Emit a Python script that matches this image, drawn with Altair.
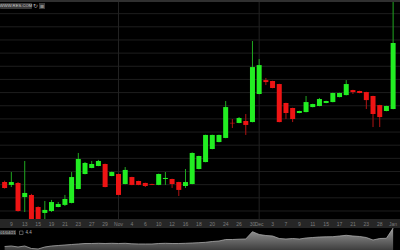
import altair as alt
import pandas as pd

# ---- data ----
idx = list(range(59))
opens = [22.20, 21.98, 22.13, 21.06, 21.22, 20.30, 19.85, 20.00, 20.30, 20.46,
         20.61, 21.67, 22.81, 23.27, 23.42, 23.57, 22.66, 22.81, 22.05, 22.58,
         22.28, 22.13, 22.05, 21.98, 22.43, 22.43, 22.20, 21.90, 22.05, 23.19,
         23.72, 24.71, 25.24, 25.55, 26.70, 26.69, 26.84, 26.76, 28.89, 29.95,
         29.88, 29.65, 28.21, 27.83, 27.45, 27.52, 27.90, 27.98, 28.21, 28.28,
         28.66, 28.81, 29.19, 29.12, 29.04, 28.74, 28.05, 27.60, 27.75]
closes = [21.75, 22.20, 20.00, 21.37, 19.30, 19.35, 20.08, 20.68, 20.53, 20.91,
          22.58, 23.95, 23.65, 23.57, 23.80, 21.82, 22.96, 21.22, 23.12, 21.98,
          21.98, 21.90, 21.99, 22.81, 22.51, 22.05, 21.60, 22.20, 24.41, 24.18,
          25.78, 25.78, 25.78, 27.90, 26.66, 27.07, 26.54, 30.94, 31.09, 29.80,
          29.35, 26.76, 27.45, 26.99, 27.60, 28.28, 28.13, 28.51, 28.36, 28.97,
          28.97, 29.65, 29.04, 28.97, 28.43, 27.37, 27.14, 27.98, 32.77]
highs = [22.30, 22.96, 22.20, 23.80, 21.30, 20.35, 20.76, 20.84, 20.68, 21.22,
         22.96, 24.41, 23.72, 23.80, 23.88, 23.60, 23.00, 22.84, 23.34, 22.60,
         22.30, 22.15, 22.07, 22.84, 22.96, 22.45, 22.22, 23.19, 24.45, 24.20,
         25.80, 25.80, 25.80, 28.36, 26.99, 27.14, 27.37, 32.92, 31.55, 30.11,
         29.90, 29.67, 28.23, 27.85, 27.62, 28.74, 28.15, 28.59, 28.38, 28.99,
         28.99, 29.95, 29.21, 29.14, 29.06, 28.76, 28.07, 28.00, 36.00]
lows = [21.70, 21.82, 19.95, 19.92, 19.25, 19.30, 19.30, 19.92, 20.28, 20.38,
        20.58, 21.65, 22.78, 23.25, 23.40, 21.80, 22.64, 21.20, 22.03, 21.96,
        21.96, 21.82, 21.97, 21.96, 21.98, 21.75, 21.14, 21.75, 22.03, 23.17,
        23.70, 24.69, 25.22, 25.53, 26.31, 26.67, 25.78, 26.74, 28.87, 29.57,
        29.33, 26.74, 26.99, 26.76, 27.43, 27.50, 27.88, 27.96, 28.19, 28.26,
        28.64, 28.79, 28.89, 28.95, 27.75, 26.38, 26.38, 27.58, 27.73]
volumes = [0.70, 0.80, 0.60, 0.80, 0.30, 0.20, 0.60, 0.80, 0.90, 1.00,
           1.10, 1.20, 1.30, 1.30, 1.34, 1.30, 1.34, 1.30, 1.34, 1.24,
           1.20, 1.20, 1.20, 1.30, 1.34, 1.30, 1.30, 1.34, 1.40, 1.46,
           1.54, 1.70, 1.80, 2.10, 2.10, 2.16, 2.20, 3.66, 3.10, 2.90,
           2.80, 2.30, 2.20, 2.30, 2.20, 2.40, 2.50, 2.60, 2.64, 2.66,
           2.80, 2.94, 2.80, 2.70, 2.50, 2.00, 2.30, 2.34, 4.40]
tick_idx = [1, 3, 5, 7, 9, 11, 13, 15, 17, 19, 21, 23, 25, 27, 29, 31, 33, 35, 37, 38,
            40, 42, 44, 46, 48, 50, 52, 54, 56, 58]
tick_text = ["9", "13", "15", "19", "21", "23", "27", "29", "Nov", "4", "6", "10", "12",
             "16", "18", "20", "24", "26", "30", "Dec", "3", "7", "9", "11", "15", "17",
             "21", "23", "28", "Jan"]
grid_prices = list(range(20, 36))
month_idx = [17, 38]
legend_date = "01/04/21"
legend_value = "4.4"
toolbar_text = "WWW.RES.COM"

GREEN, RED = "#22ee22", "#ee1414"
WICK_GREEN, WICK_RED = "#20a820", "#b01414"

df = pd.DataFrame({"i": idx, "open": opens, "high": highs, "low": lows,
                   "close": closes, "vol": volumes})
up = [c >= o for o, c in zip(opens, closes)]
df["body_col"] = [GREEN if u else RED for u in up]
df["wick_col"] = [WICK_GREEN if u else WICK_RED for u in up]

xs = alt.Scale(domain=[0.054, 58.28], nice=False, zero=False)
ys = alt.Scale(domain=[19.39, 35.81], range=[219, 3], nice=False, zero=False)
vs = alt.Scale(domain=[0, 4.8], range=[250, 226], nice=False, zero=True)
one = pd.DataFrame({"a": [0]})

hgrid = alt.Chart(pd.DataFrame({"p": grid_prices})).mark_rule(
    color="#1e1e1e", strokeWidth=1).encode(
    y=alt.Y("p:Q", scale=ys, axis=None), x=alt.value(0), x2=alt.value(400))

vgrid = alt.Chart(pd.DataFrame({"m": month_idx})).mark_rule(
    color="#222222", strokeWidth=1).encode(
    x=alt.X("m:Q", scale=xs, axis=None), y=alt.value(2), y2=alt.value(219))

wicks = alt.Chart(df).mark_rule(strokeWidth=1, clip=True).encode(
    x=alt.X("i:Q", scale=xs, axis=None),
    y=alt.Y("low:Q", scale=ys, axis=None), y2="high:Q",
    color=alt.Color("wick_col:N", scale=None, legend=None))

bodies = alt.Chart(df).mark_bar(width=5, clip=True).encode(
    x=alt.X("i:Q", scale=xs, axis=None),
    y=alt.Y("open:Q", scale=ys, axis=None), y2="close:Q",
    color=alt.Color("body_col:N", scale=None, legend=None))

band = alt.Chart(one).mark_rect(color="#262626").encode(
    x=alt.value(0), x2=alt.value(400), y=alt.value(219), y2=alt.value(228))

labels = alt.Chart(pd.DataFrame({"i": tick_idx, "t": tick_text})).mark_text(
    fontSize=5, color="#7c7c7c", baseline="middle", align="center",
    font="Liberation Sans").encode(
    x=alt.X("i:Q", scale=xs, axis=None), y=alt.value(223.8), text="t:N")

vol_area = alt.Chart(df).mark_area(
    clip=True,
    color=alt.Gradient(gradient="linear",
                       stops=[alt.GradientStop(color="#9c9c9c", offset=0),
                              alt.GradientStop(color="#3e3e3e", offset=1)],
                       x1=1, x2=1, y1=0, y2=1)).encode(
    x=alt.X("i:Q", scale=xs, axis=None),
    y=alt.Y("vol:Q", scale=vs, axis=None))

vol_line = alt.Chart(df).mark_line(color="#a8a8a8", strokeWidth=0.8, clip=True).encode(
    x=alt.X("i:Q", scale=xs, axis=None),
    y=alt.Y("vol:Q", scale=vs, axis=None))

leg_box = alt.Chart(one).mark_rect(color="#333333").encode(
    x=alt.value(0), x2=alt.value(16), y=alt.value(230), y2=alt.value(235))
leg_text = alt.Chart(pd.DataFrame({"t": [legend_date]})).mark_text(
    fontSize=4, color="#c8c8c8", baseline="middle", align="center",
    font="Liberation Sans").encode(x=alt.value(8), y=alt.value(232.6), text="t:N")
leg_icon = alt.Chart(one).mark_rect(color="#000000", stroke="#888888", strokeWidth=0.6).encode(
    x=alt.value(19.5), x2=alt.value(23), y=alt.value(231), y2=alt.value(234.5))
leg_val = alt.Chart(pd.DataFrame({"t": [legend_value]})).mark_text(
    fontSize=4.5, color="#b0b0b0", baseline="middle", align="left",
    font="Liberation Sans").encode(x=alt.value(25.5), y=alt.value(232.8), text="t:N")

top_bar = alt.Chart(one).mark_rect(color="#303030").encode(
    x=alt.value(0), x2=alt.value(400), y=alt.value(0), y2=alt.value(2))
pill = alt.Chart(one).mark_rect(color="#3a3a3a", cornerRadius=1).encode(
    x=alt.value(0), x2=alt.value(32), y=alt.value(3), y2=alt.value(9))
pill_text = alt.Chart(pd.DataFrame({"t": [toolbar_text]})).mark_text(
    fontSize=4.2, color="#cfcfcf", baseline="middle", align="center",
    font="Liberation Sans").encode(x=alt.value(16), y=alt.value(6.2), text="t:N")
icon1 = alt.Chart(pd.DataFrame({"t": ["↻"]})).mark_text(
    fontSize=6, color="#aaaaaa", baseline="middle", align="center",
    font="DejaVu Sans").encode(x=alt.value(35.5), y=alt.value(6), text="t:N")
icon2_box = alt.Chart(one).mark_rect(color="#3a3a3a").encode(
    x=alt.value(39), x2=alt.value(45), y=alt.value(3), y2=alt.value(9))
icon2 = alt.Chart(pd.DataFrame({"t": ["≡"]})).mark_text(
    fontSize=5.5, color="#bbbbbb", baseline="middle", align="center",
    font="DejaVu Sans").encode(x=alt.value(42), y=alt.value(6), text="t:N")

chart = alt.layer(
    hgrid, vgrid, wicks, bodies, band, labels, vol_area, vol_line,
    leg_box, leg_text, leg_icon, leg_val, top_bar, pill, pill_text,
    icon1, icon2_box, icon2
).resolve_scale(y="independent").properties(
    width=400, height=250, padding=0,
    autosize=alt.AutoSizeParams(type="none"),
    background="#000000"
).configure_view(stroke=None, fill="#000000")

chart.save("out.html", embed_options={"renderer": "svg", "actions": False})
